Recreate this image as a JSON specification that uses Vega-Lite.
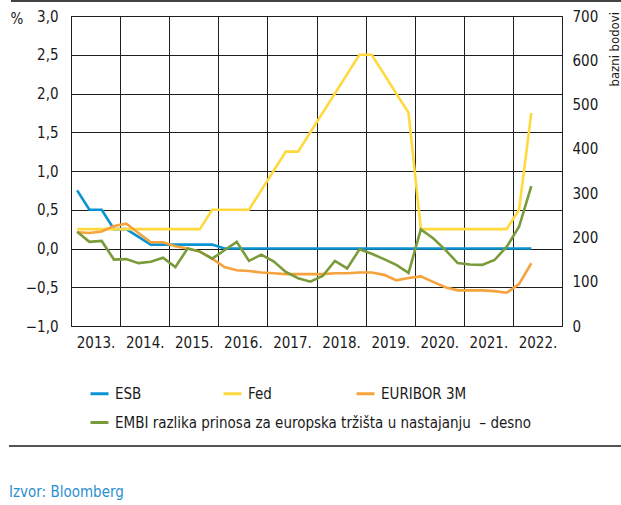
{
  "$schema": "https://vega.github.io/schema/vega-lite/v6.json",
  "width": 491,
  "height": 310,
  "autosize": {"type": "none"},
  "padding": {"left": 71, "top": 16, "right": 59, "bottom": 179},
  "background": "white",
  "config": {
    "font": "Liberation Sans Narrow, Arial Narrow, DejaVu Sans Condensed, Roboto Condensed, Liberation Sans, sans-serif",
    "view": {"stroke": "#1e1e1e", "strokeWidth": 1}
  },
  "title": {
    "text": "Izvor: Bloomberg",
    "orient": "bottom",
    "anchor": "start",
    "frame": "group",
    "dx": -62,
    "offset": 38,
    "fontSize": 15,
    "fontWeight": "normal",
    "color": "#2a8fd0"
  },
  "datasets": {
    "rates": [
      {"t": 2013.125, "ESB": 0.75, "Fed": 0.25, "EURIBOR 3M": 0.21, "EMBI": 213},
      {"t": 2013.375, "ESB": 0.5, "Fed": 0.25, "EURIBOR 3M": 0.2, "EMBI": 190},
      {"t": 2013.625, "ESB": 0.5, "Fed": 0.25, "EURIBOR 3M": 0.22, "EMBI": 192},
      {"t": 2013.875, "ESB": 0.25, "Fed": 0.25, "EURIBOR 3M": 0.29, "EMBI": 150},
      {"t": 2014.125, "ESB": 0.25, "Fed": 0.25, "EURIBOR 3M": 0.32, "EMBI": 151},
      {"t": 2014.375, "ESB": 0.15, "Fed": 0.25, "EURIBOR 3M": 0.2, "EMBI": 142},
      {"t": 2014.625, "ESB": 0.05, "Fed": 0.25, "EURIBOR 3M": 0.08, "EMBI": 145},
      {"t": 2014.875, "ESB": 0.05, "Fed": 0.25, "EURIBOR 3M": 0.08, "EMBI": 154},
      {"t": 2015.125, "ESB": 0.05, "Fed": 0.25, "EURIBOR 3M": 0.03, "EMBI": 133},
      {"t": 2015.375, "ESB": 0.05, "Fed": 0.25, "EURIBOR 3M": 0.0, "EMBI": 175},
      {"t": 2015.625, "ESB": 0.05, "Fed": 0.25, "EURIBOR 3M": -0.04, "EMBI": 168},
      {"t": 2015.875, "ESB": 0.05, "Fed": 0.5, "EURIBOR 3M": -0.13, "EMBI": 152},
      {"t": 2016.125, "ESB": 0.0, "Fed": 0.5, "EURIBOR 3M": -0.24, "EMBI": 171},
      {"t": 2016.375, "ESB": 0.0, "Fed": 0.5, "EURIBOR 3M": -0.28, "EMBI": 190},
      {"t": 2016.625, "ESB": 0.0, "Fed": 0.5, "EURIBOR 3M": -0.29, "EMBI": 147},
      {"t": 2016.875, "ESB": 0.0, "Fed": 0.75, "EURIBOR 3M": -0.31, "EMBI": 161},
      {"t": 2017.125, "ESB": 0.0, "Fed": 1.0, "EURIBOR 3M": -0.32, "EMBI": 146},
      {"t": 2017.375, "ESB": 0.0, "Fed": 1.25, "EURIBOR 3M": -0.33, "EMBI": 122},
      {"t": 2017.625, "ESB": 0.0, "Fed": 1.25, "EURIBOR 3M": -0.33, "EMBI": 108},
      {"t": 2017.875, "ESB": 0.0, "Fed": 1.5, "EURIBOR 3M": -0.33, "EMBI": 100},
      {"t": 2018.125, "ESB": 0.0, "Fed": 1.75, "EURIBOR 3M": -0.33, "EMBI": 113},
      {"t": 2018.375, "ESB": 0.0, "Fed": 2.0, "EURIBOR 3M": -0.32, "EMBI": 147},
      {"t": 2018.625, "ESB": 0.0, "Fed": 2.25, "EURIBOR 3M": -0.32, "EMBI": 130},
      {"t": 2018.875, "ESB": 0.0, "Fed": 2.5, "EURIBOR 3M": -0.31, "EMBI": 173},
      {"t": 2019.125, "ESB": 0.0, "Fed": 2.5, "EURIBOR 3M": -0.31, "EMBI": 163},
      {"t": 2019.375, "ESB": 0.0, "Fed": 2.25, "EURIBOR 3M": -0.34, "EMBI": 151},
      {"t": 2019.625, "ESB": 0.0, "Fed": 2.0, "EURIBOR 3M": -0.41, "EMBI": 138},
      {"t": 2019.875, "ESB": 0.0, "Fed": 1.75, "EURIBOR 3M": -0.38, "EMBI": 120},
      {"t": 2020.125, "ESB": 0.0, "Fed": 0.25, "EURIBOR 3M": -0.36, "EMBI": 218},
      {"t": 2020.375, "ESB": 0.0, "Fed": 0.25, "EURIBOR 3M": -0.43, "EMBI": 198},
      {"t": 2020.625, "ESB": 0.0, "Fed": 0.25, "EURIBOR 3M": -0.5, "EMBI": 172},
      {"t": 2020.875, "ESB": 0.0, "Fed": 0.25, "EURIBOR 3M": -0.54, "EMBI": 142},
      {"t": 2021.125, "ESB": 0.0, "Fed": 0.25, "EURIBOR 3M": -0.54, "EMBI": 139},
      {"t": 2021.375, "ESB": 0.0, "Fed": 0.25, "EURIBOR 3M": -0.54, "EMBI": 138},
      {"t": 2021.625, "ESB": 0.0, "Fed": 0.25, "EURIBOR 3M": -0.55, "EMBI": 149},
      {"t": 2021.875, "ESB": 0.0, "Fed": 0.25, "EURIBOR 3M": -0.57, "EMBI": 179},
      {"t": 2022.125, "ESB": 0.0, "Fed": 0.5, "EURIBOR 3M": -0.46, "EMBI": 224},
      {"t": 2022.375, "ESB": 0.0, "Fed": 1.75, "EURIBOR 3M": -0.19, "EMBI": 316}
    ]
  },
  "data": {"name": "rates"},
  "resolve": {"scale": {"y": "independent", "color": "independent"}},
  "layer": [
    {
      "transform": [{"fold": ["ESB", "Fed", "EURIBOR 3M"], "as": ["series", "value"]}],
      "mark": {"type": "line", "strokeWidth": 2.6, "interpolate": "linear"},
      "encoding": {
        "x": {
          "field": "t",
          "type": "quantitative",
          "scale": {"domain": [2013, 2023], "nice": false, "zero": false},
          "axis": {
            "title": null,
            "values": [2013, 2014, 2015, 2016, 2017, 2018, 2019, 2020, 2021, 2022, 2023],
            "labelExpr": "datum.value < 2023 ? datum.value + '.' : ''",
            "labelOffset": 24.6,
            "labelFlush": false,
            "labelOverlap": false,
            "labelFontSize": 15,
            "labelColor": "#1a1a1a",
            "labelPadding": 9,
            "ticks": false,
            "tickSize": 0,
            "domain": false,
            "grid": true,
            "gridColor": "#1e1e1e",
            "gridWidth": 1,
            "gridOpacity": 1
          }
        },
        "y": {
          "field": "value",
          "type": "quantitative",
          "scale": {"domain": [-1, 3], "nice": false, "zero": false},
          "axis": {
            "orient": "left",
            "title": "%",
            "titleAngle": 0,
            "titleAlign": "left",
            "titleBaseline": "alphabetic",
            "titleX": -61,
            "titleY": 7,
            "titleFontSize": 15,
            "titleFontWeight": "normal",
            "titleColor": "#1a1a1a",
            "values": [-1, -0.5, 0, 0.5, 1, 1.5, 2, 2.5, 3],
            "labelExpr": "replace(format(datum.value, '.1f'), '.', ',')",
            "labelFontSize": 15,
            "labelColor": "#1a1a1a",
            "labelPadding": 13,
            "labelFlush": false,
            "labelOverlap": false,
            "ticks": false,
            "tickSize": 0,
            "domain": false,
            "grid": true,
            "gridColor": "#1e1e1e",
            "gridWidth": 1,
            "gridOpacity": 1
          }
        },
        "color": {
          "field": "series",
          "type": "nominal",
          "sort": ["ESB", "Fed", "EURIBOR 3M"],
          "scale": {"domain": ["ESB", "Fed", "EURIBOR 3M"], "range": ["#0a93d3", "#ffd93e", "#f5a33d"]},
          "legend": {
            "orient": "none",
            "legendX": 18,
            "legendY": 367,
            "direction": "horizontal",
            "columns": 3,
            "gridAlign": "all",
            "columnPadding": 16,
            "title": null,
            "symbolType": "stroke",
            "symbolSize": 324,
            "symbolStrokeWidth": 3,
            "labelFontSize": 15,
            "labelOffset": 5,
            "labelLimit": 600,
            "labelColor": "#1a1a1a"
          }
        }
      }
    },
    {
      "mark": {"type": "line", "strokeWidth": 2.6, "interpolate": "linear"},
      "encoding": {
        "x": {"field": "t", "type": "quantitative", "scale": {"domain": [2013, 2023], "nice": false, "zero": false}},
        "y": {
          "field": "EMBI",
          "type": "quantitative",
          "scale": {"domain": [0, 700], "nice": false, "zero": false},
          "axis": {
            "orient": "right",
            "title": "bazni bodovi",
            "titleAngle": 270,
            "titleAlign": "left",
            "titleBaseline": "alphabetic",
            "titleX": 56,
            "titleY": 70,
            "titleFontSize": 13,
            "titleFontWeight": "normal",
            "titleColor": "#1a1a1a",
            "values": [0, 100, 200, 300, 400, 500, 600, 700],
            "labelFontSize": 15,
            "labelColor": "#1a1a1a",
            "labelPadding": 10,
            "labelFlush": false,
            "labelOverlap": false,
            "ticks": false,
            "tickSize": 0,
            "domain": false,
            "grid": false
          }
        },
        "color": {
          "datum": "EMBI razlika prinosa za europska tržišta u nastajanju\u00a0 – desno",
          "type": "nominal",
          "scale": {"range": ["#7b9b3a"]},
          "legend": {
            "orient": "none",
            "legendX": 18,
            "legendY": 396,
            "title": null,
            "symbolType": "stroke",
            "symbolSize": 324,
            "symbolStrokeWidth": 3,
            "labelFontSize": 15,
            "labelOffset": 5,
            "labelLimit": 600,
            "labelColor": "#1a1a1a"
          }
        }
      }
    },
    {
      "mark": {"type": "rule", "color": "#444444", "strokeWidth": 1.5},
      "encoding": {
        "x": {"datum": 2011.78, "type": "quantitative", "scale": {"domain": [2013, 2023], "nice": false, "zero": false}},
        "x2": {"datum": 2024.3},
        "y": {"datum": 3.2, "type": "quantitative", "scale": {"domain": [-1, 3], "nice": false, "zero": false}, "axis": null}
      }
    },
    {
      "mark": {"type": "rule", "color": "#555555", "strokeWidth": 1.2},
      "encoding": {
        "x": {"datum": 2011.74, "type": "quantitative", "scale": {"domain": [2013, 2023], "nice": false, "zero": false}},
        "x2": {"datum": 2024.3},
        "y": {"datum": -2.548, "type": "quantitative", "scale": {"domain": [-1, 3], "nice": false, "zero": false}, "axis": null}
      }
    }
  ]
}
